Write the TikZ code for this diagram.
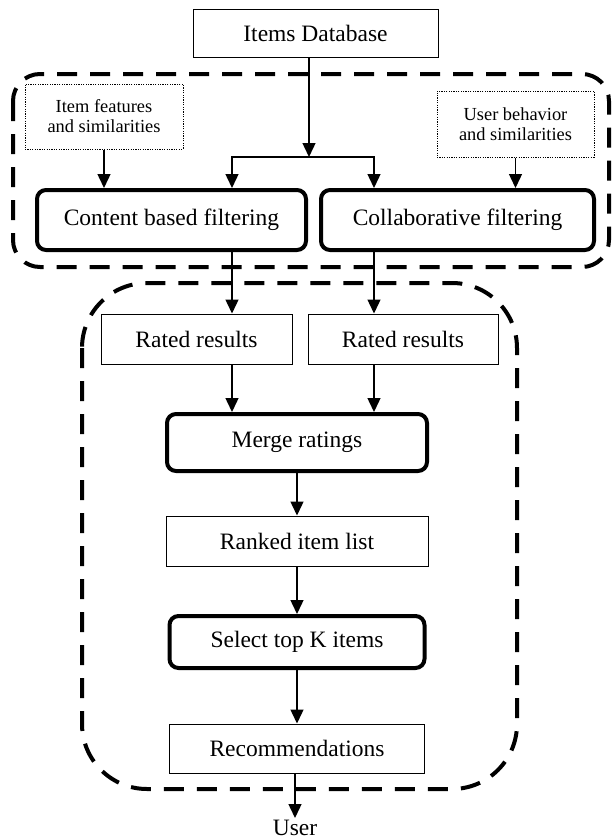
\documentclass[tikz,border=0pt]{standalone}
\usepackage{fontspec}
\setmainfont{Liberation Serif}
\usetikzlibrary{arrows.meta}
\tikzset{plainbox/.style={draw, line width=1pt, inner sep=2pt, font=\fontsize{23.5}{26}\selectfont},
  stagebox/.style={draw, line width=4pt, rounded corners=9pt, inner sep=2pt, font=\fontsize{23.5}{26}\selectfont},
  sourcebox/.style={draw, line width=1pt, dash pattern=on 1.2pt off 1.2pt, align=center, font=\fontsize{18.4}{20}\selectfont},
  flow/.style={line width=1.4pt, -{Triangle[width=13pt,length=14pt]}},
  groupframe/.style={line width=4pt, dash pattern=on 20pt off 13pt}}

\begin{document}
\begin{tikzpicture}[x=1pt,y=-1pt]
    \useasboundingbox (0,0) rectangle (614,839);
    % dashed group frames
    \draw [groupframe, rounded corners=27pt] (13,74) rectangle (609,267);
    \draw [groupframe, rounded corners=65pt] (82,283) rectangle (517,789);
    % columns of the arrows
    \coordinate (split) at (309,157);
    \coordinate (lcol) at (232,0);
    \coordinate (rcol) at (374,0);
    % nodes
    \node[plainbox, minimum width=245pt, minimum height=48pt] (db) at (315.5,33) {Items Database};
    \node[sourcebox, minimum width=158pt, minimum height=65pt] (feat) at (104,116.5) {Item features\\and similarities};
    \node[sourcebox, minimum width=157pt, minimum height=66pt] (behav) at (515.5,124) {User behavior\\and similarities};
    \node[stagebox, minimum width=269pt, minimum height=60pt] (cbf) at (171.5,220) {Content based filtering};
    \node[stagebox, minimum width=273pt, minimum height=60pt] (cf) at (457.5,220) {Collaborative filtering};
    \node[plainbox, minimum width=191pt, minimum height=50pt] (rated1) at (196.5,339) {Rated results};
    \node[plainbox, minimum width=190pt, minimum height=50pt] (rated2) at (403,339) {Rated results};
    \node[stagebox, minimum width=260pt, minimum height=57pt] (merge) at (297,442.5) {Merge ratings};
    \node[plainbox, minimum width=262pt, minimum height=50pt] (ranked) at (297,541) {Ranked item list};
    \node[stagebox, minimum width=255pt, minimum height=52pt] (select) at (297,642) {Select top K items};
    \node[plainbox, minimum width=255pt, minimum height=49pt] (recs) at (297,748.5) {Recommendations};
    \node[anchor=north, inner sep=2pt, font=\fontsize{23.5}{26}\selectfont] (user) at (295,818) {User};
    % connectors
    \draw[flow] (db.south -| split) -- (split);
    \draw[flow] (split) -| (cbf.north -| lcol);
    \draw[flow] (split) -| (cf.north -| rcol);
    \draw[flow] (feat.south) -- (feat.south |- cbf.north);
    \draw[flow] (behav.south) -- (behav.south |- cf.north);
    \draw[flow] (cbf.south -| lcol) -- (rated1.north -| lcol);
    \draw[flow] (cf.south -| rcol) -- (rated2.north -| rcol);
    \draw[flow] (rated1.south -| lcol) -- (merge.north -| lcol);
    \draw[flow] (rated2.south -| rcol) -- (merge.north -| rcol);
    \draw[flow] (merge) -- (ranked);
    \draw[flow] (ranked) -- (select);
    \draw[flow] (select) -- (recs);
    \draw[flow] (recs.south -| user) -- (user);
\end{tikzpicture}
\end{document}
